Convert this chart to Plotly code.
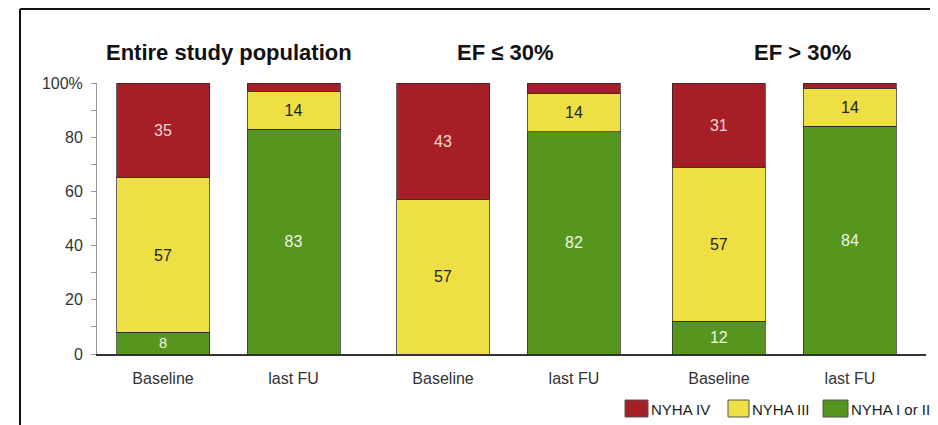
import plotly.graph_objects as go

# ---- data ----
categories = ["Baseline", "last FU", "Baseline", "last FU", "Baseline", "last FU"]
group_titles = ["Entire study population", "EF \u2264 30%", "EF > 30%"]
series_names = ["NYHA I or II", "NYHA III", "NYHA IV"]
nyha_1_2 = [8, 83, 0, 82, 12, 84]
nyha_3 = [57, 14, 57, 14, 57, 14]
nyha_4 = [35, 3, 43, 4, 31, 2]
y_ticks = [0, 20, 40, 60, 80, 100]
y_tick_labels = ["0", "20", "40", "60", "80", "100%"]

# ---- layout positions (styling only) ----
x_pos = [0, 1, 2.146, 3.149, 4.26, 5.264]
title_x = [0.506, 2.621, 4.897]

RED = "#A61F26"
YELLOW = "#EEDF45"
GREEN = "#56961F"
FONT = "Liberation Sans"

# page body has an 8px default margin -> shrink figure to compensate
W, H = 930, 417
L, T, R, B = 89, 75, 12, 71
PW, PH = W - L - R, H - T - B


def px_x(px):  # window px -> paper x
    return (px - 8 - L) / PW


def px_y(py):  # window px -> paper y
    return (H - B + 8 - py) / PH


def labels(vals):
    return [str(v) if v >= 5 else "" for v in vals]


fig = go.Figure()
series = [
    (series_names[0], nyha_1_2, GREEN, "#EDF4E4"),
    (series_names[1], nyha_3, YELLOW, "#222214"),
    (series_names[2], nyha_4, RED, "#F3D6D6"),
]
for name, vals, col, tcol in series:
    fig.add_trace(go.Bar(
        x=x_pos, y=vals, name=name, width=0.713,
        marker=dict(color=col, line=dict(color="rgba(40,40,40,0.7)", width=1)),
        text=labels(vals), textposition="inside", insidetextanchor="middle",
        textfont=dict(color=tcol, size=16, family=FONT),
        textangle=0, showlegend=False,
    ))

for t, xv in zip(group_titles, title_x):
    fig.add_annotation(x=xv, y=px_y(52), xref="x", yref="paper", text="<b>%s</b>" % t,
                       showarrow=False, font=dict(size=22, color="#111", family=FONT),
                       xanchor="center", yanchor="middle")

# custom legend (large square swatches)
leg = [
    (series_names[2], RED, 625, 648),
    (series_names[1], YELLOW, 728, 749),
    (series_names[0], GREEN, 823, 848),
]
for name, col, x0, x1 in leg:
    fig.add_shape(type="rect", xref="paper", yref="paper",
                  x0=px_x(x0), x1=px_x(x1), y0=px_y(417), y1=px_y(400),
                  fillcolor=col, line=dict(color="#555", width=1))
    fig.add_annotation(x=px_x(x1 + 1), y=px_y(409), xref="paper", yref="paper", text=name,
                       showarrow=False, xanchor="left", yanchor="middle",
                       font=dict(size=15, color="#1a1a1a", family=FONT))

# frame lines
fig.add_shape(type="line", xref="paper", yref="paper", x0=px_x(20), x1=px_x(940),
              y0=px_y(9), y1=px_y(9), line=dict(color="#111", width=2))
fig.add_shape(type="line", xref="paper", yref="paper", x0=px_x(20), x1=px_x(20),
              y0=px_y(9), y1=px_y(430), line=dict(color="#111", width=2))

fig.update_layout(
    width=W, height=H,
    margin=dict(l=L, r=R, t=T, b=B),
    barmode="stack",
    plot_bgcolor="white", paper_bgcolor="white",
    font=dict(family=FONT, size=16, color="#333"),
    showlegend=False,
    xaxis=dict(range=[-0.506, 5.847], tickvals=x_pos, ticktext=categories,
               showline=True, linecolor="#333", linewidth=2, ticks="", showgrid=False,
               zeroline=False, ticklabelstandoff=9, tickfont=dict(size=16, color="#333")),
    yaxis=dict(range=[0, 100], tickvals=y_ticks, ticktext=y_tick_labels,
               showline=True, linecolor="#999", linewidth=1, ticks="outside", ticklen=5,
               tickcolor="#999", showgrid=False, zeroline=False, ticklabelstandoff=5,
               minor=dict(dtick=10, ticks="outside", ticklen=5, tickcolor="#999"),
               tickfont=dict(size=16, color="#333")),
)

fig.write_html("out.html")
